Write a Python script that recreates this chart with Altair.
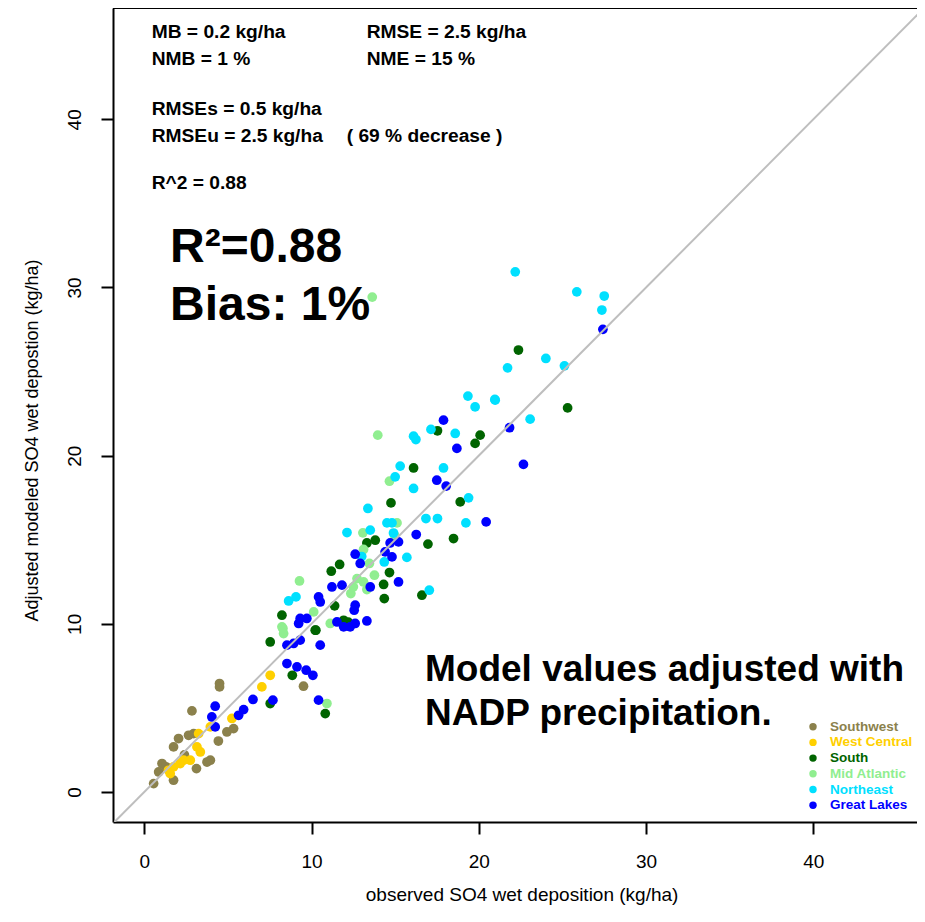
import altair as alt
import pandas as pd

# ---------------- data (observed, adjusted modeled) ----------------
regions = ["Southwest", "West Central", "South", "Mid Atlantic", "Northeast", "Great Lakes"]
colors = ["#8B814C", "#FFD000", "#006400", "#90EE90", "#00E0FF", "#0000FF"]

sw_obs = [4.50, 4.50, 2.85, 2.95, 2.65, 2.05, 1.75, 4.43, 4.94, 5.34, 3.95, 3.75, 3.12, 1.06, 0.86, 1.75, 0.56, 9.52, 1.30, 2.40]
sw_mod = [6.45, 6.25, 4.82, 3.47, 3.37, 3.18, 2.68, 3.03, 3.57, 3.77, 1.89, 1.78, 1.39, 1.69, 1.19, 0.70, 0.50, 6.29, 1.50, 2.20]

wc_obs = [7.53, 7.03, 5.24, 3.95, 3.25, 3.15, 3.35, 2.75, 2.15, 1.75, 1.45, 1.55, 2.35]
wc_mod = [6.94, 6.25, 4.37, 3.87, 3.47, 2.68, 2.38, 1.89, 1.69, 1.49, 1.29, 1.09, 1.89]

so_obs = [7.53, 8.85, 7.53, 10.22, 10.82, 17.53, 20.08, 19.78, 16.10, 14.75, 18.89, 13.31, 13.81, 16.96,
          18.49, 11.68, 11.18, 14.66, 14.31, 14.35, 16.60, 11.38, 8.23, 10.26, 11.92, 22.37, 25.31, 12.20]
so_mod = [5.26, 6.94, 8.92, 9.62, 4.66, 21.48, 21.22, 20.73, 19.27, 17.19, 17.25, 14.81, 14.97, 14.74,
          15.07, 13.53, 13.13, 13.05, 12.34, 11.50, 11.70, 11.07, 10.51, 9.62, 10.21, 26.28, 22.84, 10.10]

ma_obs = [8.23, 10.92, 13.96, 14.66, 15.11, 14.96, 13.07, 13.11, 13.46, 13.76, 12.72, 13.11, 13.31, 12.35,
          9.28, 10.13, 8.29, 8.33, 11.12, 13.63, 12.50]
ma_mod = [9.82, 5.26, 21.22, 18.48, 16.00, 15.27, 15.41, 14.42, 13.59, 12.89, 12.69, 12.49, 12.04, 11.80,
          12.55, 10.71, 9.72, 9.42, 10.02, 29.43, 12.20]

ne_obs = [19.78, 20.98, 18.59, 16.10, 16.24, 17.14, 17.89, 15.30, 15.00, 16.10, 19.39, 13.37, 16.84, 17.53,
          19.23, 14.51, 14.81, 12.12, 13.51, 15.70, 14.35, 17.04, 8.63, 9.07, 22.18, 25.86, 27.50, 27.36,
          24.01, 21.72, 25.12, 19.35, 20.96, 23.07, 14.90, 13.00]
ne_mod = [22.90, 23.30, 21.32, 21.16, 20.96, 21.56, 19.27, 19.38, 18.74, 18.05, 17.49, 16.86, 16.26, 16.26,
          16.00, 16.00, 16.00, 15.43, 15.57, 13.95, 13.68, 12.00, 11.36, 11.60, 30.93, 29.74, 29.49, 28.66,
          25.78, 25.22, 25.34, 23.54, 23.34, 22.17, 15.40, 14.00]

gl_obs = [4.24, 4.04, 4.24, 5.64, 5.94, 6.50, 7.69, 8.53, 9.13, 9.68, 10.08, 10.42, 8.53, 8.93, 9.32, 10.52,
          9.23, 17.89, 18.69, 17.49, 18.05, 20.44, 16.26, 15.20, 14.70, 14.81, 12.61, 12.91, 14.40, 15.20,
          13.51, 11.22, 11.82, 10.42, 10.52, 12.61, 12.55, 9.32, 9.72, 11.52, 11.92, 12.31, 12.61, 13.31,
          27.42, 21.84, 22.67]
gl_mod = [5.10, 4.46, 3.87, 4.56, 4.90, 5.50, 5.46, 7.64, 7.44, 7.24, 6.94, 5.46, 8.73, 8.83, 9.03, 8.73,
          10.02, 22.11, 20.43, 18.54, 18.19, 16.06, 15.31, 14.87, 14.81, 13.98, 14.14, 13.59, 14.28, 12.49,
          12.19, 12.19, 12.30, 11.60, 11.30, 11.11, 10.81, 10.32, 10.32, 10.11, 9.82, 9.82, 10.02, 10.17,
          27.51, 21.66, 19.48]

tick_values = [0, 10, 20, 30, 40]
x_domain = [-1.87, 46.2]
y_domain = [-1.785, 46.62]

stats_left = ["MB = 0.2 kg/ha", "NMB = 1 %", "RMSEs = 0.5 kg/ha", "RMSEu = 2.5 kg/ha", "R^2 = 0.88"]
stats_right = ["RMSE = 2.5 kg/ha", "NME = 15 %"]
decrease_text = "( 69 % decrease )"
big_lines = ["R\u00b2=0.88", "Bias: 1%"]
note_lines = ["Model values adjusted with", "NADP precipitation."]

# ---------------- tables ----------------
obs_lists = [sw_obs, wc_obs, so_obs, ma_obs, ne_obs, gl_obs]
mod_lists = [sw_mod, wc_mod, so_mod, ma_mod, ne_mod, gl_mod]
rows = []
for reg, ob, md in zip(regions, obs_lists, mod_lists):
    for o, m in zip(ob, md):
        rows.append({"region": reg, "obs": o, "mod": m})
df = pd.DataFrame(rows)

# 1:1 reference line across the plotting range
line_df = pd.DataFrame({"x": [y_domain[0], y_domain[1]], "y": [y_domain[0], y_domain[1]]})
legend_df = pd.DataFrame({"region": regions, "i": list(range(len(regions)))})
one = pd.DataFrame({"a": [0]})

W, H = 804, 814
FONT = "Liberation Sans"

color_scale = alt.Scale(domain=regions, range=colors)
xs = alt.Scale(domain=x_domain, nice=False, zero=False)
ys = alt.Scale(domain=y_domain, nice=False, zero=False)

x_axis = alt.Axis(values=tick_values, tickSize=12, tickWidth=2, tickColor="black",
                  domainColor="black", domainWidth=2, grid=False,
                  labelFont=FONT, labelFontSize=19, labelColor="black",
                  labelBaseline="top", labelPadding=18, labelFlush=False,
                  title="observed SO4 wet deposition (kg/ha)", titleFont=FONT,
                  titleFontSize=19, titleFontWeight="normal", titleColor="black",
                  titleX=408.6, titleY=78, titleBaseline="alphabetic", titleAlign="center")
y_axis = alt.Axis(values=tick_values, tickSize=12, tickWidth=2, tickColor="black",
                  domainColor="black", domainWidth=2, grid=False,
                  labelFont=FONT, labelFontSize=19, labelColor="black",
                  labelAngle=270, labelAlign="center", labelBaseline="alphabetic",
                  labelPadding=20.7, labelFlush=False,
                  title="Adjusted modeled SO4 wet depostion (kg/ha)", titleFont=FONT,
                  titleFontSize=18, titleFontWeight="normal", titleColor="black",
                  titleAngle=270, titleX=-76, titleY=432, titleBaseline="alphabetic",
                  titleAlign="center")

points = alt.Chart(df).mark_circle(size=95, opacity=1).encode(
    x=alt.X("obs:Q", scale=xs, axis=x_axis),
    y=alt.Y("mod:Q", scale=ys, axis=y_axis),
    color=alt.Color("region:N", scale=color_scale, legend=None),
)

one_to_one = alt.Chart(line_df).mark_line(color="#BEBEBE", strokeWidth=2, clip=True).encode(
    x=alt.X("x:Q", scale=xs), y=alt.Y("y:Q", scale=ys)
)

top_border = alt.Chart(one).mark_rule(color="black", strokeWidth=2).encode(
    x=alt.value(0), x2=alt.value(W), y=alt.value(0)
)


def txt(s, x, y, size, weight="bold", color="black", baseline="alphabetic"):
    return alt.Chart(pd.DataFrame({"t": [s]})).mark_text(
        font=FONT, fontSize=size, fontWeight=weight, color=color,
        align="left", baseline=baseline
    ).encode(x=alt.value(x), y=alt.value(y), text="t:N")


stat_y = [24, 51, 101, 128, 175]
layers = [points, one_to_one, top_border]
for s, yy in zip(stats_left, stat_y):
    layers.append(txt(s, 38.7, yy, 19.2, baseline="middle"))
for s, yy in zip(stats_right, stat_y[:2]):
    layers.append(txt(s, 253.7, yy, 19.2, baseline="middle"))
layers.append(txt(decrease_text, 233.7, stat_y[3], 19.2, baseline="middle"))
layers.append(txt(big_lines[0], 57, 254, 48))
layers.append(txt(big_lines[1], 57, 312, 48))
layers.append(txt(note_lines[0], 312, 673, 37))
layers.append(txt(note_lines[1], 312, 717, 37))

legend_dots = alt.Chart(legend_df).transform_calculate(
    ly="718.7 + 15.7 * datum.i"
).mark_circle(size=55, opacity=1).encode(
    x=alt.value(700),
    y=alt.Y("ly:Q", scale=None, axis=None),
    color=alt.Color("region:N", scale=color_scale, legend=None),
)
legend_text = alt.Chart(legend_df).transform_calculate(
    ly="718.7 + 15.7 * datum.i"
).mark_text(font=FONT, fontSize=13.5, fontWeight="bold", align="left", baseline="middle").encode(
    x=alt.value(717),
    y=alt.Y("ly:Q", scale=None, axis=None),
    text="region:N",
    color=alt.Color("region:N", scale=color_scale, legend=None),
)
layers += [legend_dots, legend_text]

chart = alt.layer(*layers).properties(
    width=W, height=H,
    autosize=alt.AutoSizeParams(type="none"),
    padding={"left": 105, "top": 0, "right": 0, "bottom": 84},
    background="white",
).configure_view(stroke=None)

chart.save("out.html", embed_options={"renderer": "svg", "actions": False})
